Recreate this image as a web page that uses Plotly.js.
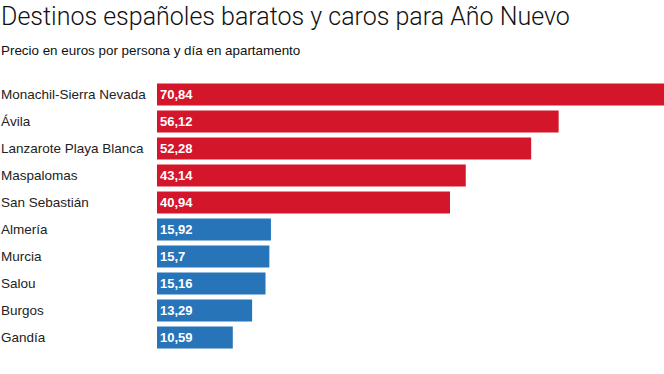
<!DOCTYPE html>
<html>
<head>
<meta charset="utf-8">
<script src="https://cdn.plot.ly/plotly-3.0.1.min.js"></script>
<style>html,body{margin:0;padding:0;background:#fff;}#chart{width:664px;height:374px;}</style>
</head>
<body>
<div id="chart"></div>
<script>
const caros = ["Monachil-Sierra Nevada", "Ávila", "Lanzarote Playa Blanca", "Maspalomas", "San Sebastián"];
const carosValues = [70.84, 56.12, 52.28, 43.14, 40.94];
const baratos = ["Almería", "Murcia", "Salou", "Burgos", "Gandía"];
const baratosValues = [15.92, 15.7, 15.16, 13.29, 10.59];
const titleText = "Destinos españoles baratos y caros para Año Nuevo";
const subtitleText = "Precio en euros por persona y día en apartamento";

const fmt = v => String(v).replace('.', ',');
const allCats = caros.concat(baratos);
const maxVal = Math.max(...carosValues, ...baratosValues);

const L = 157, W = 664 - L;
const valueFont = {family: "Liberation Sans, Arial, sans-serif", size: 13, color: "#ffffff", weight: 700};

function barTrace(cats, vals, color) {
  return {
    type: 'bar', orientation: 'h', y: cats, x: vals,
    marker: {color: color, line: {width: 0}},
    text: vals.map(fmt), textposition: 'inside', insidetextanchor: 'start',
    textfont: valueFont, constraintext: 'none', cliponaxis: false,
    hoverinfo: 'none', showlegend: false
  };
}

const data = [
  barTrace(caros, carosValues, '#d4162b'),
  barTrace(baratos, baratosValues, '#2774b9')
];

const annotations = allCats.map(c => ({
  xref: 'paper', yref: 'y', x: -(L + 1) / W, y: c, text: c,
  xanchor: 'left', yanchor: 'middle', showarrow: false,
  font: {family: "Liberation Sans, Arial, sans-serif", size: 13.5, color: '#222'}
}));
annotations.push({
  xref: 'paper', yref: 'paper', x: -(L + 1) / W, y: (351.5 - 50) / 270.5, text: subtitleText,
  xanchor: 'left', yanchor: 'middle', showarrow: false,
  font: {family: "Liberation Sans, Arial, sans-serif", size: 13.4, color: '#111'}
});
annotations.push({
  xref: 'paper', yref: 'paper', x: -(L + 1) / W, y: (351.5 - 16) / 270.5, text: titleText,
  xanchor: 'left', yanchor: 'middle', showarrow: false,
  font: {family: "Roboto, sans-serif", size: 25, color: '#111', weight: 300}
});

const layout = {
  width: 664, height: 374,
  margin: {l: L, r: 0, t: 81, b: 22.5, pad: 0},
  paper_bgcolor: '#fff', plot_bgcolor: '#fff',
  barmode: 'overlay', bargap: 0.19,
  xaxis: {range: [0, maxVal], visible: false, fixedrange: true},
  yaxis: {type: 'category', categoryorder: 'array', categoryarray: allCats,
          autorange: 'reversed', showticklabels: false, showgrid: false, zeroline: false, showline: false, ticks: ''},
  annotations: annotations,
  font: {family: "Liberation Sans, Arial, sans-serif"}
};

Plotly.newPlot('chart', data, layout, {displayModeBar: false, staticPlot: true});
</script>
</body>
</html>
